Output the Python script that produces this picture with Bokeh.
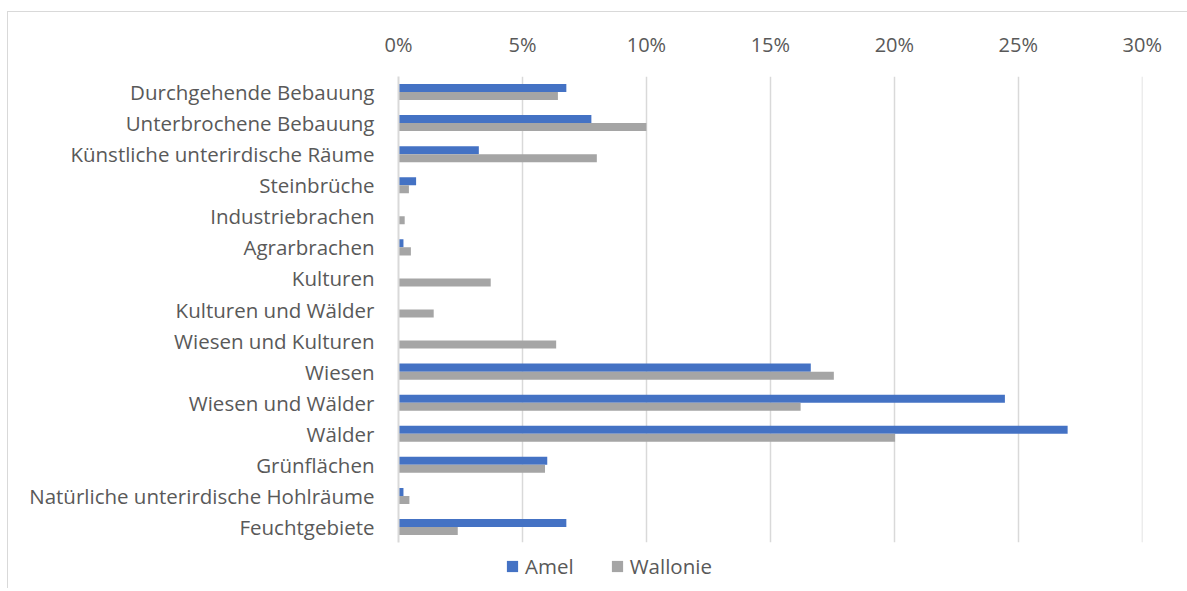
from bokeh.plotting import figure
from bokeh.layouts import column
from bokeh.models import (ColumnDataSource, FactorRange, Range1d, NumeralTickFormatter,
                          SingleIntervalTicker, Legend, LegendItem)
from bokeh.transform import dodge
from bokeh.embed import file_html
from bokeh.resources import INLINE

categories = ["Durchgehende Bebauung", "Unterbrochene Bebauung", "Künstliche unterirdische Räume",
              "Steinbrüche", "Industriebrachen", "Agrarbrachen", "Kulturen", "Kulturen und Wälder",
              "Wiesen und Kulturen", "Wiesen", "Wiesen und Wälder", "Wälder", "Grünflächen",
              "Natürliche unterirdische Hohlräume", "Feuchtgebiete"]
amel = [0.0677, 0.0778, 0.0324, 0.0071, 0.0, 0.0020, 0.0, 0.0, 0.0, 0.1663, 0.2446, 0.2699,
        0.0600, 0.0020, 0.0677]
wallonie = [0.0643, 0.1000, 0.0800, 0.0042, 0.0025, 0.0050, 0.0372, 0.0142, 0.0636, 0.1756,
            0.1622, 0.2003, 0.0591, 0.0044, 0.0239]
series_names = ["Amel", "Wallonie"]
series_colors = ["#4472C4", "#A5A5A5"]
x_ticks_interval = 0.05

source = ColumnDataSource(dict(cat=categories, amel=amel, wallonie=wallonie))

FONT = "Open Sans"
TXT = "#595959"
GRID = "#d9d9d9"

p = figure(width=1179, height=536, output_backend="svg", toolbar_location=None,
           y_range=FactorRange(factors=list(reversed(categories))),
           x_range=Range1d(0, 0.3001), x_axis_location="above",
           min_border_left=390, min_border_right=45, min_border_top=64, min_border_bottom=6)
p.outline_line_color = None

p.hbar(y=dodge("cat", 0.129, range=p.y_range), right="amel", left=0, height=0.258,
       source=source, fill_color=series_colors[0], line_color=None)
p.hbar(y=dodge("cat", -0.129, range=p.y_range), right="wallonie", left=0, height=0.258,
       source=source, fill_color=series_colors[1], line_color=None)

xa = p.xaxis[0]
xa.ticker = SingleIntervalTicker(interval=x_ticks_interval)
xa.formatter = NumeralTickFormatter(format="0%")
xa.axis_line_color = None
xa.major_tick_line_color = None
xa.minor_tick_line_color = None
xa.major_label_text_font = FONT
xa.major_label_text_font_size = "20px"
xa.major_label_text_color = TXT
xa.major_label_standoff = 13

ya = p.yaxis[0]
ya.axis_line_color = GRID
ya.axis_line_width = 2
ya.major_tick_line_color = None
ya.minor_tick_line_color = None
ya.major_label_text_font = FONT
ya.major_label_text_font_size = "20.5px"
ya.major_label_text_color = TXT
ya.major_label_standoff = 18

p.xgrid.grid_line_color = GRID
p.xgrid.grid_line_width = 1.5
p.xgrid.ticker = xa.ticker
p.ygrid.grid_line_color = None

# legend strip (its zero-height bars draw nothing; only the legend shows)
p2 = figure(width=1179, height=40, output_backend="svg", toolbar_location=None,
            x_axis_location=None, y_axis_location=None,
            x_range=Range1d(-1, -0.5), y_range=FactorRange(factors=categories),
            min_border_left=0, min_border_right=0, min_border_top=0, min_border_bottom=0)
p2.outline_line_color = None
p2.grid.grid_line_color = None
e1 = p2.hbar(y="cat", right="amel", left=0, height=0, source=source,
             fill_color=series_colors[0], line_color=None)
e2 = p2.hbar(y="cat", right="wallonie", left=0, height=0, source=source,
             fill_color=series_colors[1], line_color=None)
legend = Legend(items=[LegendItem(label=series_names[0], renderers=[e1]),
                       LegendItem(label=series_names[1], renderers=[e2])],
                orientation="horizontal", location=(107, 8),
                glyph_width=14, glyph_height=14, label_standoff=6, spacing=36,
                label_text_font=FONT, label_text_font_size="20.5px", label_text_color=TXT,
                padding=0, margin=0, border_line_color=None, background_fill_alpha=0)
p2.add_layout(legend)

layout = column(p, p2, spacing=0)
layout.stylesheets = [":host { margin: 11px 0 0 7px; border-top: 1px solid #d9d9d9; "
                      "border-left: 1px solid #d9d9d9; }"]

open("out.html", "w").write(file_html(layout, INLINE))
